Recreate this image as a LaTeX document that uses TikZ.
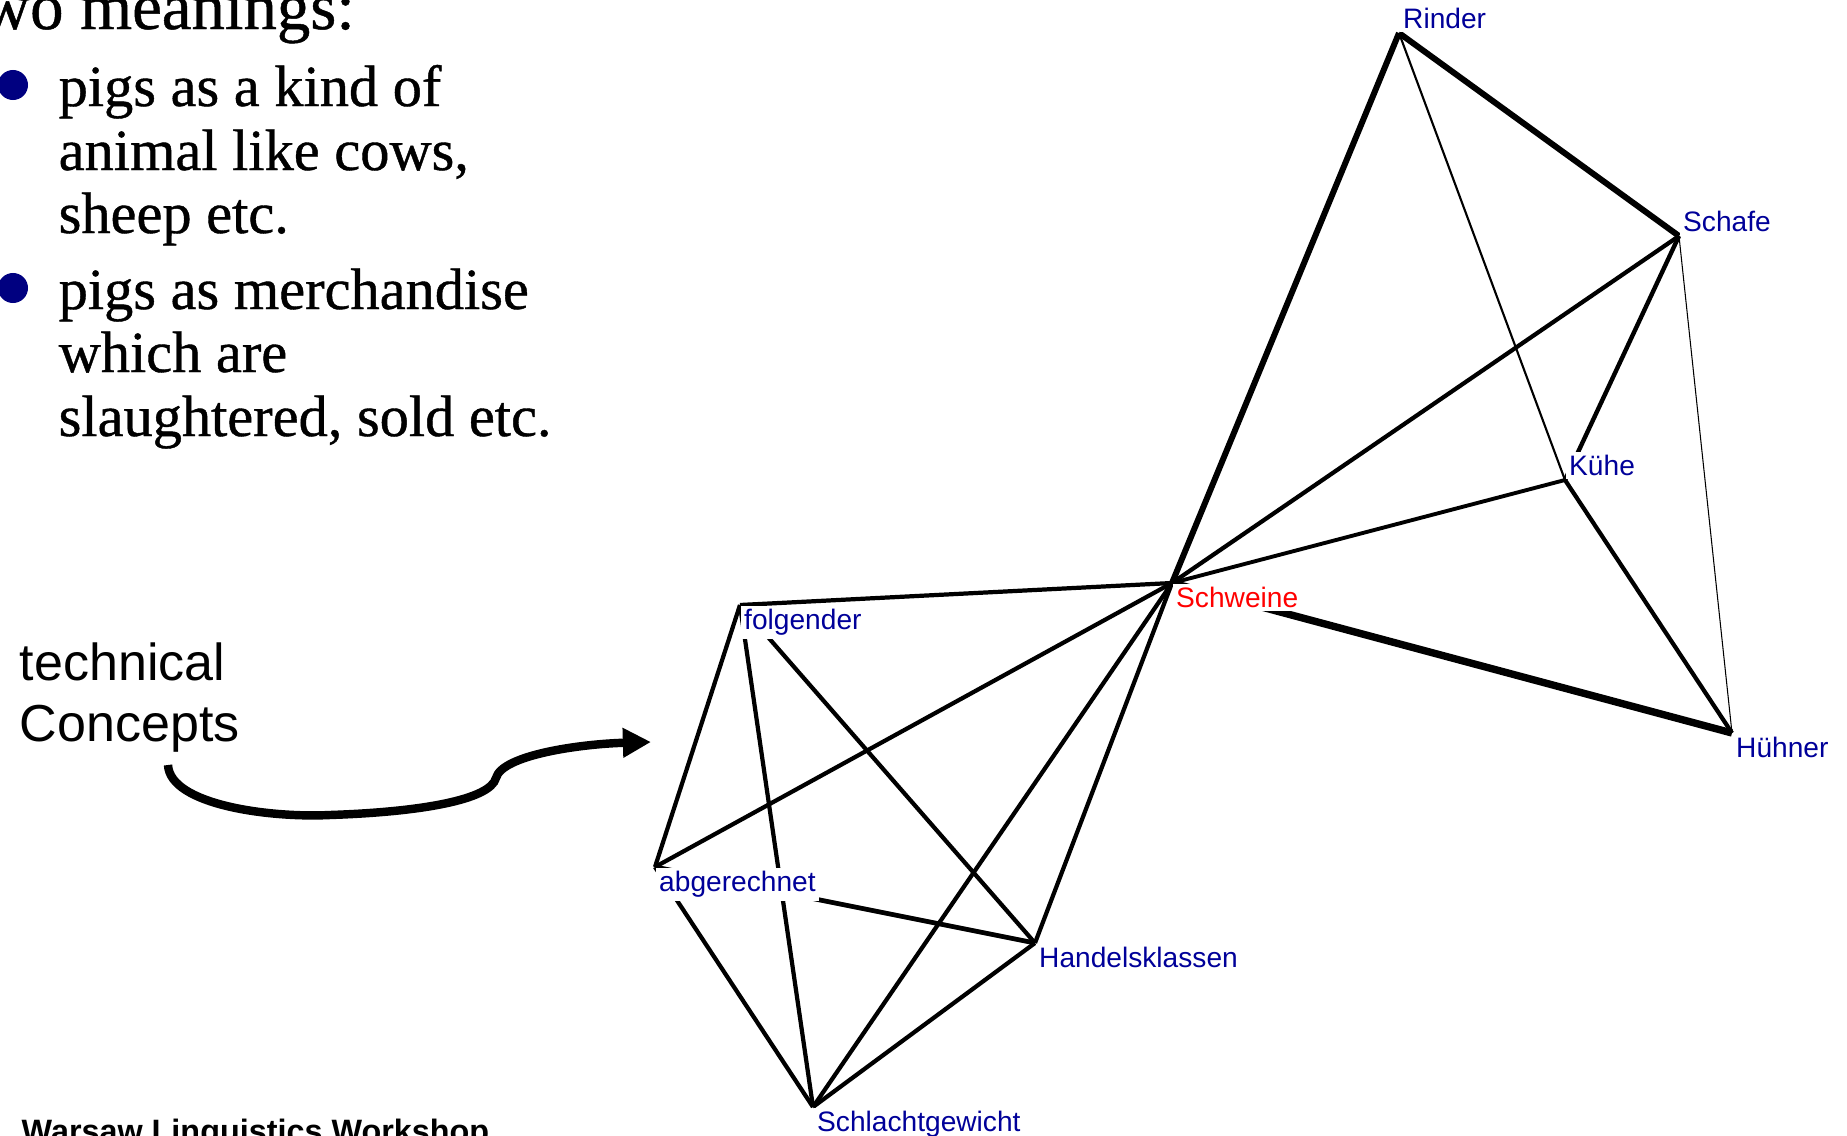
\documentclass[tikz,border=0pt]{standalone}
\usepackage{fontspec}
\setmainfont{Liberation Serif}
\newfontfamily\heavyserif{Liberation Serif}[FakeBold=0.7]
\newfontfamily\arialfont{Liberation Sans}
\usetikzlibrary{arrows.meta}
\definecolor{wordblue}{RGB}{0,0,153}
\definecolor{bulletblue}{RGB}{0,0,128}
\definecolor{pigred}{RGB}{255,0,0}

\begin{document}
\begin{tikzpicture}[x=0.01cm, y=-0.01cm,
		word/.style={font=\arialfont\fontsize{8}{9.6}\selectfont, text=wordblue, fill=white, inner sep=1pt},
		bullettext/.style={font=\heavyserif\fontsize{16.6}{20}\selectfont, anchor=base west, inner sep=0},
		dot/.style={circle, fill=bulletblue, minimum size=0.3cm, inner sep=0}]
	\useasboundingbox (0,0) rectangle (1847,1136);

	% heading and the two meanings
	\node[font=\heavyserif\fontsize{19}{22}\selectfont, anchor=base west, inner sep=0] (heading) at (-55,29) {Two meanings:};
	\node[dot] (dot1) at (13,85) {};
	\node[dot] (dot2) at (13,288) {};
	\foreach \y/\linetext [count=\i] in {106/pigs as a kind of, {170/animal like cows,}, 233/sheep etc., 309/pigs as merchandise, 372/which are, {436/slaughtered, sold etc.}}
	{
		\node[bullettext] (line\i) at (58,\y) {\linetext};
	}

	% word graph
	\foreach \name/\x/\y in {rinder/1399/33, schafe/1679/236, kuehe/1565/480, schweine/1172/583, huehner/1732/733, folgender/740/605, abgerechnet/655/867, handel/1035/943, schlacht/813/1107}
	{
		\coordinate (\name) at (\x,\y);
	}
	\foreach \a/\b/\w in {rinder/schweine/1.7, rinder/schafe/1.7, rinder/kuehe/0.6, schafe/schweine/1.2, schafe/kuehe/1.25, schafe/huehner/0.3, kuehe/schweine/1.1, kuehe/huehner/1.2, schweine/huehner/2.1, schweine/folgender/1.2, schweine/abgerechnet/1.2, schweine/schlacht/1.2, schweine/handel/1.2, folgender/abgerechnet/1.2, folgender/schlacht/1.2, folgender/handel/1.2, abgerechnet/handel/1.35, abgerechnet/schlacht/1.2, handel/schlacht/1.2}
	{
		\draw[line width=\w pt] (\a) -- (\b);
	}
	\node[word, anchor=south west] (lrinder) at (rinder) {Rinder};
	\node[word, anchor=south west] (lschafe) at (schafe) {Schafe};
	\node[word, anchor=south west] (lkuehe) at (kuehe) {Kühe};
	\node[word, anchor=north west, text=pigred] (lschweine) at (schweine) {Schweine};
	\node[word, anchor=north west] (lhuehner) at (huehner) {Hühner};
	\node[word, anchor=north west] (lfolgender) at (folgender) {folgender};
	\node[word, anchor=north west] (labgerechnet) at (abgerechnet) {abgerechnet};
	\node[word, anchor=north west] (lhandel) at (handel) {Handelsklassen};
	\node[word, anchor=north west] (lschlacht) at (schlacht) {Schlachtgewicht};

	% pointer to the technical cluster
	\node[font=\arialfont\fontsize{14.8}{17.4}\selectfont, anchor=north west, inner sep=0, align=left] (technical) at (19,642) {technical\\Concepts};
	\coordinate (arrowstart) at (168,765);
	\coordinate (arrowtip) at (651,742);
	\draw[line width=2.4pt, -{Triangle[length=8pt,width=8pt]}] (arrowstart) .. controls (170,805) and (270,818) .. (330,815) .. controls (420,812) and (490,800) .. (496,778) .. controls (502,755) and (580,744) .. (arrowtip);

	\node[font=\arialfont\bfseries\fontsize{9.2}{11}\selectfont, anchor=base west, inner sep=0] (footer) at (21,1142) {Warsaw Linguistics Workshop};
\end{tikzpicture}
\end{document}
